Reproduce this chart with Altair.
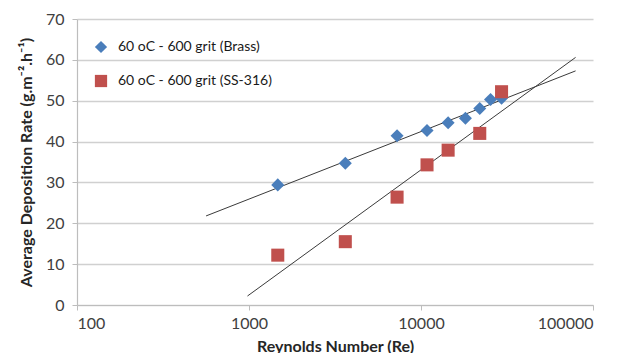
import altair as alt
import pandas as pd

# Data
re_values = [1470, 3630, 7260, 10840, 14380, 18130, 21960, 25370, 29400]
brass_rate = [29.4, 34.7, 41.4, 42.7, 44.6, 45.7, 48.1, 50.3, 50.6]

ss_re = [1470, 3630, 7260, 10840, 14380, 21960, 29400]
ss_rate = [12.2, 15.5, 26.4, 34.3, 37.9, 42.0, 52.2]

# Logarithmic trend-line end points
brass_trend_re = [563, 79200]
brass_trend_y = [21.8, 57.3]
ss_trend_re = [980, 79200]
ss_trend_y = [2.2, 60.6]

series_names = ["60  oC - 600 grit (Brass)", "60 oC - 600 grit (SS-316)"]
series_colors = ["#4A7EBB", "#C0504D"]
series_shapes = ["diamond", "square"]
x_ticks = [100, 1000, 10000, 100000]
y_ticks = [0, 10, 20, 30, 40, 50, 60, 70]

FONT = "Lato"

pts = pd.DataFrame(
    [{"Re": r, "Rate": v, "Series": series_names[0]} for r, v in zip(re_values, brass_rate)]
    + [{"Re": r, "Rate": v, "Series": series_names[1]} for r, v in zip(ss_re, ss_rate)]
)
trend = pd.DataFrame(
    [{"Re": r, "Rate": v, "Fit": "brass"} for r, v in zip(brass_trend_re, brass_trend_y)]
    + [{"Re": r, "Rate": v, "Fit": "ss"} for r, v in zip(ss_trend_re, ss_trend_y)]
)

x_scale = alt.Scale(type="log", domain=[100, 100000], nice=False)
y_scale = alt.Scale(domain=[0, 70], nice=False)

x_axis = alt.Axis(
    title="Reynolds Number (Re)", values=x_ticks, format="d", grid=False,
    tickSize=5, labelPadding=5, titlePadding=7,
)
y_axis = alt.Axis(
    title="Average Deposition Rate (g.m\u207b\u00b2.h\u207b\u00b9)", values=y_ticks,
    grid=True, tickSize=5, labelPadding=8, titlePadding=11,
)

lines = alt.Chart(trend).mark_line(color="#3a3a3a", strokeWidth=1).encode(
    x=alt.X("Re:Q", scale=x_scale, axis=x_axis),
    y=alt.Y("Rate:Q", scale=y_scale, axis=y_axis),
    detail="Fit:N",
)

points = alt.Chart(pts).mark_point(filled=True, size=170, opacity=1).encode(
    x=alt.X("Re:Q", scale=x_scale),
    y=alt.Y("Rate:Q", scale=y_scale),
    color=alt.Color(
        "Series:N",
        scale=alt.Scale(domain=series_names, range=series_colors),
        legend=alt.Legend(
            title=None, orient="none", legendX=17, legendY=21, padding=0,
            labelFontSize=14, labelFont=FONT, labelColor="#1a1a1a",
            symbolSize=150, rowPadding=20, labelOffset=10, labelLimit=400,
            symbolStrokeWidth=0,
        ),
    ),
    shape=alt.Shape(
        "Series:N",
        scale=alt.Scale(domain=series_names, range=series_shapes),
    ),
)

chart = (
    alt.layer(lines, points)
    .properties(
        width=516, height=286,
        padding={"left": 69, "top": 11, "right": 20, "bottom": 48},
        autosize=alt.AutoSizeParams(type="none"),
    )
    .configure_view(stroke=None)
    .configure_axis(
        labelFont=FONT, titleFont=FONT, labelFontSize=16, titleFontSize=16,
        labelColor="#404040", titleColor="#262626", titleFontWeight="bold",
        domainColor="#bdbdbd", tickColor="#bdbdbd", gridColor="#d0d0d0",
        gridWidth=1.5, domainWidth=1.2,
    )
)

chart.save("out.html", embed_options={"renderer": "svg", "actions": False})
